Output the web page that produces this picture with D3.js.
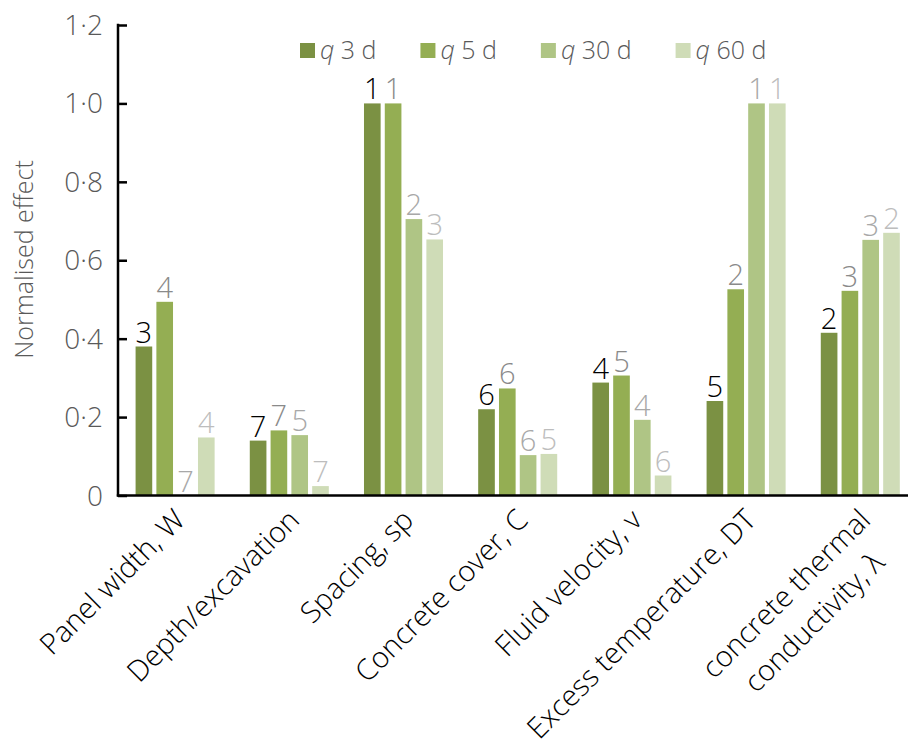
<!DOCTYPE html>
<html>
<head>
<meta charset="utf-8">
<script src="https://cdn.jsdelivr.net/npm/d3@7"></script>
<style>
  html, body { margin: 0; padding: 0; background: #fff; }
  svg { display: block; font-family: "Open Sans", "Noto Sans", sans-serif; font-weight: 300; }
</style>
</head>
<body>
<svg id="chart" width="908" height="749"></svg>
<script>
// Parameters (x axis); the last one wraps over two lines
const categories = [
  ["Panel width, W"],
  ["Depth/excavation"],
  ["Spacing, sp"],
  ["Concrete cover, C"],
  ["Fluid velocity, v"],
  ["Excess temperature, DT"],
  ["concrete thermal", "conductivity, λ"]
];

// Series names (shown after an italic q)
const seriesNames = ["3 d", "5 d", "30 d", "60 d"];

// Normalised effect per parameter
const q3d  = [0.380, 0.140, 1.000, 0.220, 0.288, 0.241, 0.415];
const q5d  = [0.494, 0.166, 1.000, 0.273, 0.306, 0.526, 0.522];
const q30d = [0.000, 0.154, 0.705, 0.103, 0.193, 1.000, 0.652];
const q60d = [0.148, 0.024, 0.653, 0.106, 0.051, 1.000, 0.670];

// Rank of each parameter within a series
const rank3d  = [3, 7, 1, 6, 4, 5, 2];
const rank5d  = [4, 7, 1, 6, 5, 2, 3];
const rank30d = [7, 5, 2, 6, 4, 1, 3];
const rank60d = [4, 7, 3, 5, 6, 1, 2];

const yTicks = [0, 0.2, 0.4, 0.6, 0.8, 1.0, 1.2];
const yTickLabels = ["0", "0·2", "0·4", "0·6", "0·8", "1·0", "1·2"];

const barColors = ["#7b9143", "#94ae53", "#afc585", "#cfdcb7"];
const rankColors = ["#000000", "#8a8a8a", "#a8a8a8", "#bdbdbd"];

const seriesValues = [q3d, q5d, q30d, q60d];
const seriesRanks = [rank3d, rank5d, rank30d, rank60d];

const svg = d3.select("#chart");

const axisX = 118, plotTop = 25, plotBottom = 495.5;

const x0 = d3.scaleBand()
  .domain(d3.range(categories.length))
  .range([axisX, 917.4])
  .paddingInner(0.308)
  .paddingOuter(0.154);

const x1 = d3.scaleBand()
  .domain(d3.range(seriesNames.length))
  .range([0, x0.bandwidth()])
  .paddingInner(0.2)
  .paddingOuter(0);

const y = d3.scaleLinear().domain([0, 1.2]).range([plotBottom, plotTop]);

// Bars and rank labels
const groups = svg.append("g").selectAll("g")
  .data(categories.map((c, i) => i))
  .join("g")
  .attr("transform", i => `translate(${x0(i)},0)`);

groups.selectAll("rect")
  .data(i => seriesValues.map((vals, s) => ({ s, v: vals[i] })))
  .join("rect")
  .attr("x", d => x1(d.s))
  .attr("width", x1.bandwidth())
  .attr("y", d => y(d.v))
  .attr("height", d => y(0) - y(d.v))
  .attr("fill", d => barColors[d.s]);

groups.selectAll("text")
  .data(i => seriesValues.map((vals, s) => ({ s, v: vals[i], r: seriesRanks[s][i] })))
  .join("text")
  .attr("x", d => x1(d.s) + x1.bandwidth() / 2)
  .attr("y", d => y(d.v) - 4)
  .attr("text-anchor", "middle")
  .attr("font-size", 29)
  .attr("fill", d => rankColors[d.s])
  .text(d => d.r);

// Y axis (ticks point into the plot)
const yAxis = d3.axisRight(y)
  .tickValues(yTicks)
  .tickSize(9)
  .tickFormat("");
const yg = svg.append("g").attr("transform", `translate(${axisX},0)`).call(yAxis);
yg.select(".domain").remove();
yg.selectAll(".tick line").attr("stroke", "#000").attr("stroke-width", 2.5);

svg.append("line")
  .attr("x1", axisX).attr("x2", axisX)
  .attr("y1", plotTop - 1.2).attr("y2", plotBottom + 1)
  .attr("stroke", "#000").attr("stroke-width", 2.5);

svg.append("g").selectAll("text")
  .data(yTicks)
  .join("text")
  .attr("x", 103)
  .attr("y", d => y(d))
  .attr("dy", "0.36em")
  .attr("text-anchor", "end")
  .attr("font-size", 28)
  .attr("fill", "#595959")
  .text((d, i) => yTickLabels[i]);

// X axis line
svg.append("line")
  .attr("x1", axisX - 1.2).attr("x2", 908)
  .attr("y1", plotBottom).attr("y2", plotBottom)
  .attr("stroke", "#000").attr("stroke-width", 2.5);

// Y axis title
svg.append("text")
  .attr("transform", `translate(33,${259.5}) rotate(-90)`)
  .attr("text-anchor", "middle")
  .attr("font-size", 25)
  .attr("fill", "#595959")
  .text("Normalised effect");

// Category labels, rotated 45°
const lineHeight = 40;
categories.forEach((lines, i) => {
  const cx = x0(i) + x0.bandwidth() / 2;
  const g = svg.append("g")
    .attr("transform", `translate(${cx - 3},${507}) rotate(-45)`);
  const texts = lines.map((ln, k) => g.append("text")
    .attr("font-size", 29)
    .attr("fill", "#000")
    .attr("dy", "0.72em")
    .attr("y", k * lineHeight)
    .text(ln));
  if (lines.length === 1) {
    texts[0].attr("text-anchor", "end");
  } else {
    const maxW = d3.max(texts, t => t.node().getComputedTextLength());
    texts.forEach(t => t.attr("text-anchor", "middle").attr("x", -maxW / 2));
  }
});

// Legend
let lx = 300;
seriesNames.forEach((name, s) => {
  const g = svg.append("g");
  g.append("rect")
    .attr("x", lx).attr("y", 43)
    .attr("width", 15).attr("height", 15)
    .attr("fill", barColors[s]);
  const t = g.append("text")
    .attr("x", lx + 20).attr("y", 59)
    .attr("font-size", 25)
    .attr("fill", "#595959");
  t.append("tspan").attr("font-style", "italic").text("q");
  t.append("tspan").text(" " + name);
  lx += 20 + t.node().getComputedTextLength() + 44;
});
</script>
</body>
</html>
